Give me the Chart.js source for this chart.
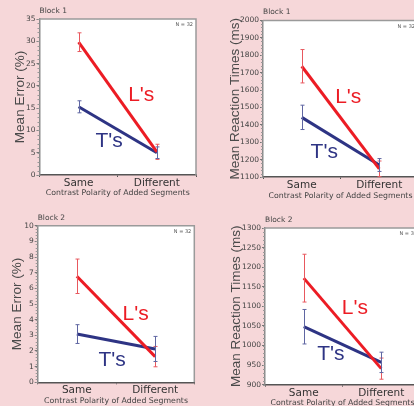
<!DOCTYPE html>
<html>
<head>
<meta charset="utf-8">
<script src="https://cdn.jsdelivr.net/npm/chart.js@4/dist/chart.umd.min.js"></script>
<style>
  body { margin: 0; background: #f6d7d9; }
  #wrap { position: relative; width: 414px; height: 406px; overflow: hidden; }
  canvas { position: absolute; }
</style>
</head>
<body>
<div id="wrap">
  <canvas id="p1" width="207" height="203" style="left:0;top:0"></canvas>
  <canvas id="p2" width="220" height="203" style="left:207px;top:0"></canvas>
  <canvas id="p3" width="207" height="203" style="left:0;top:203px"></canvas>
  <canvas id="p4" width="220" height="203" style="left:207px;top:203px"></canvas>
</div>
<script>
// categories
const categories = ['Same', 'Different'];

// Block 1 - error rate (%)
const b1ErrL = [29.8, 5.2];
const b1ErrLsem = [2.1, 1.7];
const b1ErrT = [15.3, 5.0];
const b1ErrTsem = [1.35, 1.3];

// Block 1 - reaction times (ms)
const b1RtL = [1737, 1147];
const b1RtLsem = [96, 45];
const b1RtT = [1443, 1169];
const b1RtTsem = [70, 37];

// Block 2 - error rate (%)
const b2ErrL = [6.77, 1.64];
const b2ErrLsem = [1.1, 0.65];
const b2ErrT = [3.08, 2.13];
const b2ErrTsem = [0.6, 0.8];

// Block 2 - reaction times (ms)
const b2RtL = [1172, 941];
const b2RtLsem = [61, 27];
const b2RtT = [1048, 957];
const b2RtTsem = [44, 26];

const RED = '#ec1c24', RED_ERR = '#e8585e';
const BLUE = '#2e3484', BLUE_ERR = '#5f66a2';

// draws white plot box, frame, minor ticks, error bars and text labels
const extras = {
  id: 'extras',
  beforeDraw(chart, args, o) {
    const a = chart.chartArea, ctx = chart.ctx;
    ctx.save();
    ctx.fillStyle = '#fff';
    ctx.fillRect(a.left, a.top, a.right - a.left, a.bottom - a.top);
    ctx.restore();
  },
  afterDraw(chart, args, o) {
    const a = chart.chartArea, ctx = chart.ctx;
    const x = chart.scales.x, y = chart.scales.y;
    ctx.save();
    // top + right frame
    ctx.strokeStyle = '#9a9a9a';
    ctx.lineWidth = 1.5;
    ctx.beginPath();
    ctx.moveTo(a.left, a.top);
    ctx.lineTo(a.right, a.top);
    ctx.lineTo(a.right, a.bottom);
    ctx.stroke();
    // minor ticks
    ctx.strokeStyle = '#999';
    ctx.lineWidth = 1;
    for (let v = y.min; v <= y.max + 1e-9; v += o.minor) {
      const py = Math.round(y.getPixelForValue(v)) + 0.5;
      ctx.beginPath();
      ctx.moveTo(a.left - 2, py);
      ctx.lineTo(a.left, py);
      ctx.stroke();
    }
    // error bars
    chart.data.datasets.forEach(ds => {
      ctx.strokeStyle = ds.errColor;
      ctx.lineWidth = 1;
      ds.data.forEach((v, i) => {
        const px = Math.round(x.getPixelForValue(i)) + 0.5;
        const hi = y.getPixelForValue(v + ds.sem[i]);
        const lo = y.getPixelForValue(v - ds.sem[i]);
        ctx.beginPath();
        ctx.moveTo(px, hi); ctx.lineTo(px, lo);
        ctx.moveTo(px - 2, hi); ctx.lineTo(px + 2, hi);
        ctx.moveTo(px - 2, lo); ctx.lineTo(px + 2, lo);
        ctx.stroke();
      });
    });
    // series labels
    ctx.textAlign = 'center';
    ctx.textBaseline = 'middle';
    ctx.font = '21px "Liberation Sans", Arial, sans-serif';
    chart.data.datasets.forEach(ds => {
      ctx.fillStyle = ds.borderColor;
      ctx.fillText(ds.label, x.getPixelForValue(ds.tag[0]), y.getPixelForValue(ds.tag[1]));
    });
    // block name and N
    ctx.fillStyle = '#444';
    ctx.textAlign = 'left';
    ctx.font = '7.5px "DejaVu Sans", sans-serif';
    ctx.fillText(o.block, a.left, a.top - 8);
    ctx.textAlign = 'right';
    ctx.font = '5px "DejaVu Sans", sans-serif';
    ctx.fillStyle = '#555';
    ctx.fillText('N = 32', a.right - 3, a.top + 6);
    ctx.restore();
  }
};

function makePanel(id, p) {
  new Chart(document.getElementById(id), {
    type: 'line',
    data: {
      labels: categories,
      datasets: [
        { label: "L's", data: p.L, sem: p.Lsem, tag: p.tagL, borderColor: RED, errColor: RED_ERR,
          borderWidth: 3, pointRadius: 0, borderCapStyle: 'butt' },
        { label: "T's", data: p.T, sem: p.Tsem, tag: p.tagT, borderColor: BLUE, errColor: BLUE_ERR,
          borderWidth: 3, pointRadius: 0, borderCapStyle: 'butt' }
      ]
    },
    options: {
      responsive: false,
      animation: false,
      layout: { padding: { top: p.top, right: p.right, left: 0, bottom: 0 } },
      plugins: {
        legend: { display: false },
        tooltip: { enabled: false },
        extras: { minor: p.minor, block: p.block }
      },
      scales: {
        x: {
          offset: true,
          grid: { offset: true, drawOnChartArea: false, tickLength: 2, color: '#555' },
          border: { color: '#555', width: 1.5 },
          ticks: { padding: 0, color: '#333', font: { family: 'DejaVu Sans', size: 10.5 } },
          title: { display: true, text: 'Contrast Polarity of Added Segments', color: '#444',
                   font: { family: 'DejaVu Sans', size: 7.8 }, padding: { top: 0, bottom: p.xtPad } },
          afterFit: s => { s.height = p.xH; }
        },
        y: {
          min: p.min, max: p.max,
          grid: { drawOnChartArea: false, tickLength: 3, color: '#777' },
          border: { color: '#8a8a8a', width: 1.5 },
          ticks: { stepSize: p.step, padding: 1, color: '#444', font: { family: 'DejaVu Sans', size: 7.5 },
                   callback: v => String(v) },
          title: { display: true, text: p.ytitle, color: '#4a4a4a',
                   font: { family: 'Liberation Sans', size: 13.5 }, padding: { top: p.ytPad, bottom: 0 } },
          afterFit: s => { s.width = p.yW; }
        }
      }
    },
    plugins: [extras]
  });
}

makePanel('p1', { L: b1ErrL, Lsem: b1ErrLsem, T: b1ErrT, Tsem: b1ErrTsem,
  tagL: [0.8, 17.8], tagT: [0.39, 7.5], min: 0, max: 35, step: 5, minor: 1,
  ytitle: 'Mean Error (%)', block: 'Block 1',
  top: 19, right: 11, yW: 39.5, xH: 28, ytPad: 12, xtPad: 5.3 });

makePanel('p2', { L: b1RtL, Lsem: b1RtLsem, T: b1RtT, Tsem: b1RtTsem,
  tagL: [0.6, 1558], tagT: [0.29, 1245], min: 1100, max: 2000, step: 100, minor: 20,
  ytitle: 'Mean Reaction Times (ms)', block: 'Block 1',
  top: 20.5, right: 9, yW: 56, xH: 26, ytPad: 20.2, xtPad: 2.3 });

makePanel('p3', { L: b2ErrL, Lsem: b2ErrLsem, T: b2ErrT, Tsem: b2ErrTsem,
  tagL: [0.75, 4.36], tagT: [0.45, 1.44], min: 0, max: 10, step: 1, minor: 0.2,
  ytitle: 'Mean Error (%)', block: 'Block 2',
  top: 22.7, right: 12.7, yW: 37.7, xH: 23.7, ytPad: 9.2, xtPad: 0 });

makePanel('p4', { L: b2RtL, Lsem: b2RtLsem, T: b2RtT, Tsem: b2RtTsem,
  tagL: [0.66, 1096], tagT: [0.35, 977], min: 900, max: 1300, step: 50, minor: 10,
  ytitle: 'Mean Reaction Times (ms)', block: 'Block 2',
  top: 25, right: 7, yW: 58, xH: 21.3, ytPad: 21, xtPad: -1.7 });
</script>
</body>
</html>
